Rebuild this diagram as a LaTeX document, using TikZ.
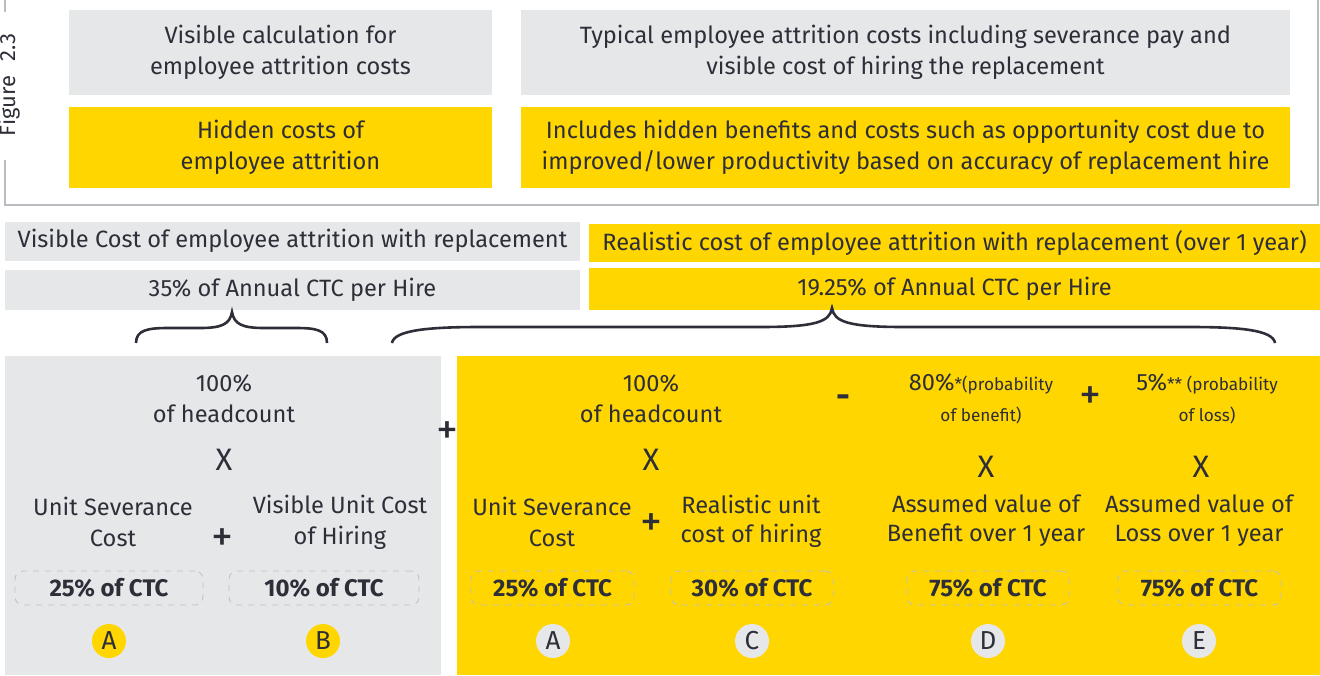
\documentclass[tikz,border=0pt]{standalone}
\usepackage{fontspec}
\setmainfont{Fira Sans}
\definecolor{inkc}{RGB}{46,46,56}
\definecolor{eyyellow}{RGB}{255,214,0}
\definecolor{boxgray}{RGB}{230,231,233}
\definecolor{framegray}{RGB}{185,188,193}
\definecolor{dashgray}{RGB}{190,192,196}
\newcommand\mainsz{\fontsize{11.8}{15.5}\selectfont}
\newcommand\tightsz{\fontsize{11.8}{14.5}\selectfont}
\newcommand\smallsz{\fontsize{8.6}{12.5}\selectfont}
\newcommand\signsz{\fontsize{22}{22}\selectfont}

\begin{document}
\begin{tikzpicture}[x=0.5pt, y=-0.5pt,
  every node/.style={text=inkc, font=\mainsz, align=center, inner sep=0pt},
  greybox/.style={fill=boxgray},
  yellowbox/.style={fill=eyyellow},
  pctbox/.style={draw=dashgray, dashed, rounded corners=4pt, minimum height=17pt, font=\fontsize{12}{12}\selectfont\bfseries},
  tagyellow/.style={circle, fill=eyyellow, minimum size=17pt, font=\fontsize{13}{13}\selectfont},
  taggray/.style={circle, fill=boxgray, minimum size=17pt, font=\fontsize{13}{13}\selectfont},
  sign/.style={font=\signsz},
  times/.style={font=\fontsize{15.5}{15.5}\selectfont},
  brace/.style={draw=inkc, line width=1.3pt}]
\useasboundingbox (0,0) rectangle (1320,675);

\draw[framegray, line width=1.3pt] (5,0) -- (5,12);
\draw[framegray, line width=1.3pt] (5,160) -- (5,205) -- (1318,205) -- (1318,0);
\node[rotate=90, font=\fontsize{11}{11}\selectfont] (figLabel) at (9,85) {Figure\,\,\,\,2.3};

\node[greybox, minimum width=211.5pt, minimum height=42.5pt] (visCalc) at (280.5,52.5) {Visible calculation for\\employee attrition costs};
\node[yellowbox, minimum width=211.5pt, minimum height=40.5pt] (hidCost) at (280.5,147.5) {Hidden costs of\\employee attrition};
\node[greybox, minimum width=384.5pt, minimum height=42.5pt] (typCost) at (905.5,52.5) {Typical employee attrition costs including severance pay and\\visible cost of hiring the replacement};
\node[yellowbox, minimum width=384.5pt, minimum height=40.5pt] (inclCost) at (905.5,147.5) {Includes hidden benefits and costs such as opportunity cost due to\\improved/lower productivity based on accuracy of replacement hire};

\node[greybox, minimum width=287.5pt, minimum height=19.5pt] (visCost) at (292.5,241) {Visible Cost of employee attrition with replacement};
\node[yellowbox, minimum width=365.5pt, minimum height=19pt] (realCost) at (954.5,243) {Realistic cost of employee attrition with replacement (over 1 year)};
\node[greybox, minimum width=287.5pt, minimum height=20pt] (visPct) at (292.5,290) {35\% of Annual CTC per Hire};
\node[yellowbox, minimum width=365.5pt, minimum height=21pt] (realPct) at (954.5,289) {19.25\% of Annual CTC per Hire};

\draw[brace] (136,343) .. controls (136,330) and (148,328) .. (168,328) -- (200,328) .. controls (222,328) and (230,324) .. (232,312) .. controls (234,324) and (242,328) .. (264,328) -- (296,328) .. controls (316,328) and (327,330) .. (327,343);
\draw[brace] (392,343) .. controls (394,330) and (430,327) .. (480,327) -- (760,327) .. controls (815,327) and (830,322) .. (832,308) .. controls (834,322) and (849,327) .. (904,327) -- (1190,327) .. controls (1240,327) and (1273,330) .. (1275,343);

\node[greybox, minimum width=218pt, minimum height=159.5pt] (visPanel) at (223,515.5) {};
\node[yellowbox, minimum width=431.5pt, minimum height=159.5pt] (realPanel) at (888.5,515.5) {};
\node[sign] (plusPanels) at (447,433) {+};

\node (headV) at (224,399) {100\%\\of headcount};
\node[times] (timesV) at (224,460) {X};
\node (sevV) at (113,522) {Unit Severance\\Cost};
\node[sign] (plusV) at (222,540) {+};
\node (hireV) at (340,522) {Visible Unit Cost\\of Hiring};
\node[pctbox, minimum width=94pt] (sevPctV) at (109,588) {25\% of CTC};
\node[pctbox, minimum width=95pt] (hirePctV) at (324,588) {10\% of CTC};
\node[tagyellow] (tagA) at (109,641) {A};
\node[tagyellow] (tagB) at (323,641) {B};

\node (headR) at (651,399) {100\%\\of headcount};
\node[times] (timesR) at (651,460) {X};
\node (sevR) at (552,522) {Unit Severance\\Cost};
\node[sign] (plusR) at (651,525) {+};
\node[font=\tightsz] (hireR) at (751,521) {Realistic unit\\cost of hiring};
\node[font=\fontsize{17}{17}\selectfont\bfseries] (minusR) at (843,401) {-};
\node (probBen) at (981,399) {80\%{\smallsz*(probability}\\{\smallsz of benefit)}};
\node[sign] (plusProb) at (1090,398) {+};
\node (probLoss) at (1207,399) {5\%{\smallsz** (probability}\\{\smallsz of loss)}};
\node[times] (timesBen) at (986,467) {X};
\node[times] (timesLoss) at (1201,467) {X};
\node[font=\tightsz] (valBen) at (986,521) {Assumed value of\\Benefit over 1 year};
\node[font=\tightsz] (valLoss) at (1199,521) {Assumed value of\\Loss over 1 year};
\node[pctbox, minimum width=81.5pt] (sevPctR) at (552.5,588) {25\% of CTC};
\node[pctbox, minimum width=81pt] (hirePctR) at (752,588) {30\% of CTC};
\node[pctbox, minimum width=81pt] (benPct) at (988,588) {75\% of CTC};
\node[pctbox, minimum width=81.5pt] (lossPct) at (1199.5,588) {75\% of CTC};
\node[taggray] (tagA2) at (553,641) {A};
\node[taggray] (tagC) at (752,641) {C};
\node[taggray] (tagD) at (988,641) {D};
\node[taggray] (tagE) at (1199,641) {E};
\end{tikzpicture}
\end{document}
